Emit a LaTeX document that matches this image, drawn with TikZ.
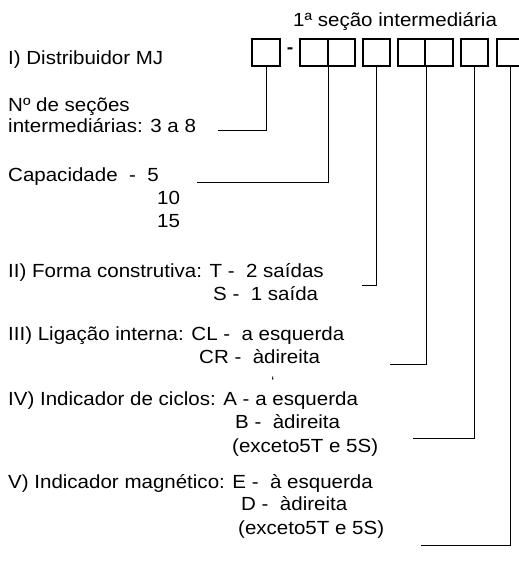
\documentclass[tikz,border=0pt]{standalone}
\usepackage{fontspec}
\setmainfont{Liberation Sans}[FakeStretch=1.08]

\begin{document}
\begin{tikzpicture}[x=1pt,y=-1pt,
  cellbox/.style={draw,line width=1.6pt,minimum width=27.5pt,minimum height=27pt,inner sep=0pt},
  txt/.style={anchor=base west,inner sep=0pt,font=\fontsize{19}{23}\selectfont},
  lead/.style={line width=1pt}]
  \useasboundingbox (0,0) rectangle (519,566);

  \foreach \n/\x in {1/266,2/314,3/341.5,4/376.5,5/411.5,6/439,7/474.5,8/510.5}
    \node [cellbox] (b\n) at (\x,52.5) {};
  \node [txt,anchor=center,font=\bfseries\fontsize{18}{22}\selectfont] (dash) at (290,51) {-};

  \node [txt] (sec) at (293,26) {1ª seção intermediária};
  \node [txt] (dist) at (8,64) {I) Distribuidor MJ};
  \node [txt] (nsec) at (8,111) {Nº de seções};
  \node [txt] (nsecb) at (8,132) {intermediárias: 3 a 8};
  \node [txt] (cap) at (8,181) {Capacidade\ \ -\ \ 5};
  \node [txt] (cap10) at (157,204) {10};
  \node [txt] (cap15) at (157,227) {15};
  \node [txt] (forma) at (8,277) {II) Forma construtiva: T\ -\ \ 2 saídas};
  \node [txt] (formaS) at (213,300) {S\ -\ \ 1 saída};
  \node [txt] (lig) at (8,340) {III) Ligação interna: CL\ -\ \ a esquerda};
  \node [txt] (ligCR) at (199,363) {CR\ -\ \ àdireita};
  \node [txt,font=\fontsize{14}{14}\selectfont] (grv) at (271,386) {`};
  \node [txt] (ind) at (8,405) {IV) Indicador de ciclos: A\ -\ a esquerda};
  \node [txt] (indB) at (235,428) {B\ -\ \ àdireita};
  \node [txt] (indX) at (232,452) {(exceto5T e 5S)};
  \node [txt] (mag) at (8,488) {V) Indicador magnético: E\ -\ \ à esquerda};
  \node [txt] (magD) at (241,510) {D\ -\ \ àdireita};
  \node [txt] (magX) at (238,534) {(exceto5T e 5S)};

  \coordinate (e1) at (218,130);
  \coordinate (e2) at (197,182);
  \coordinate (e3) at (362,285);
  \coordinate (e4) at (390,364);
  \coordinate (e5) at (413,438);
  \coordinate (e6) at (421,545);

  \draw [lead] (b1.south) |- (e1);
  \draw [lead] (b2.south east) |- (e2);
  \draw [lead] (b4.south) |- (e3);
  \draw [lead] (b5.south east) |- (e4);
  \draw [lead] (b7.south) |- (e5);
  \draw [lead] (b8.south) |- (e6);
\end{tikzpicture}
\end{document}
